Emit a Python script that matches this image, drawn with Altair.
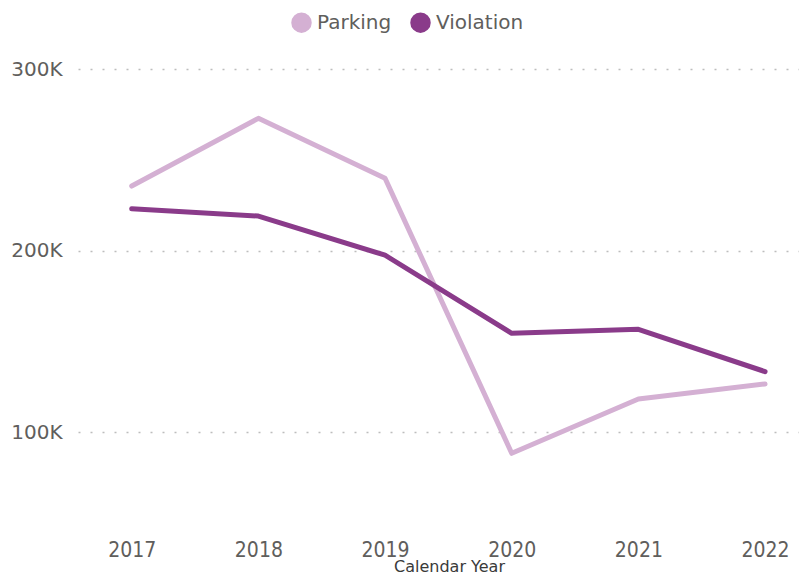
import altair as alt
import pandas as pd

years = [2017, 2018, 2019, 2020, 2021, 2022]
parking = [235600, 272900, 239900, 88400, 118300, 126600]
violation = [223100, 219100, 197500, 154500, 156700, 133400]
series = ["Parking", "Violation"]
colors = ["#D4B0D3", "#8A3B8A"]
y_ticks = [100000, 200000, 300000]

rows = []
for y, p, v in zip(years, parking, violation):
    rows.append({"year": y, "series": "Parking", "value": p})
    rows.append({"year": y, "series": "Violation", "value": v})
df = pd.DataFrame(rows)

COND = "DejaVu Sans Condensed, Liberation Sans Narrow, sans-serif"
SANS = "DejaVu Sans, sans-serif"
TXT = "#605E5C"

x_enc = alt.X(
    "year:Q",
    scale=alt.Scale(domain=[2016.576, 2022.268], nice=False, zero=False),
    axis=alt.Axis(
        values=years, format="d", grid=False, domain=False, ticks=False,
        labelFontSize=21, labelColor=TXT, labelFont=COND, labelPadding=16,
        title="Calendar Year", titleFontSize=16, titleFont=SANS,
        titleColor="#3A3A3A", titleFontWeight="normal", titlePadding=-2,
        titleX=371, titleAlign="center",
    ),
)
y_enc = alt.Y(
    "value:Q",
    scale=alt.Scale(domain=[50000, 310000], nice=False, zero=False),
    axis=alt.Axis(
        values=y_ticks, labelExpr="datum.value/1000 + 'K'",
        grid=True, gridDash=[2, 10], gridColor="#BDBDBD", gridWidth=1.5,
        domain=False, ticks=False, labelFontSize=20, labelColor=TXT,
        labelFont=SANS, labelPadding=16, title=None,
    ),
)
legend = alt.Legend(
    orient="none", direction="horizontal", legendX=213, legendY=-39,
    title=None, symbolType="circle", symbolSize=420,
    symbolOpacity=1, labelFontSize=20, labelFont=SANS, labelColor=TXT,
    labelOffset=5, columnPadding=18,
)
color_enc = alt.Color("series:N", scale=alt.Scale(domain=series, range=colors), legend=legend)

base = alt.Chart(df)

lines = base.mark_line(strokeWidth=5, strokeCap="round", strokeJoin="round").encode(
    x=x_enc, y=y_enc, color=color_enc, order="year:Q",
)

pts = base.mark_point(filled=True, size=0, opacity=1).encode(
    x=x_enc, y=y_enc, color=color_enc,
)

chart = alt.layer(lines, pts).properties(
    width=721, height=472,
    padding={"left": 70, "top": 43, "right": 0, "bottom": 52},
    autosize=alt.AutoSizeParams(type="none"),
).configure_view(stroke=None).configure_legend(symbolStrokeWidth=0)

chart.save("out.html", embed_options={"renderer": "svg", "actions": False})
